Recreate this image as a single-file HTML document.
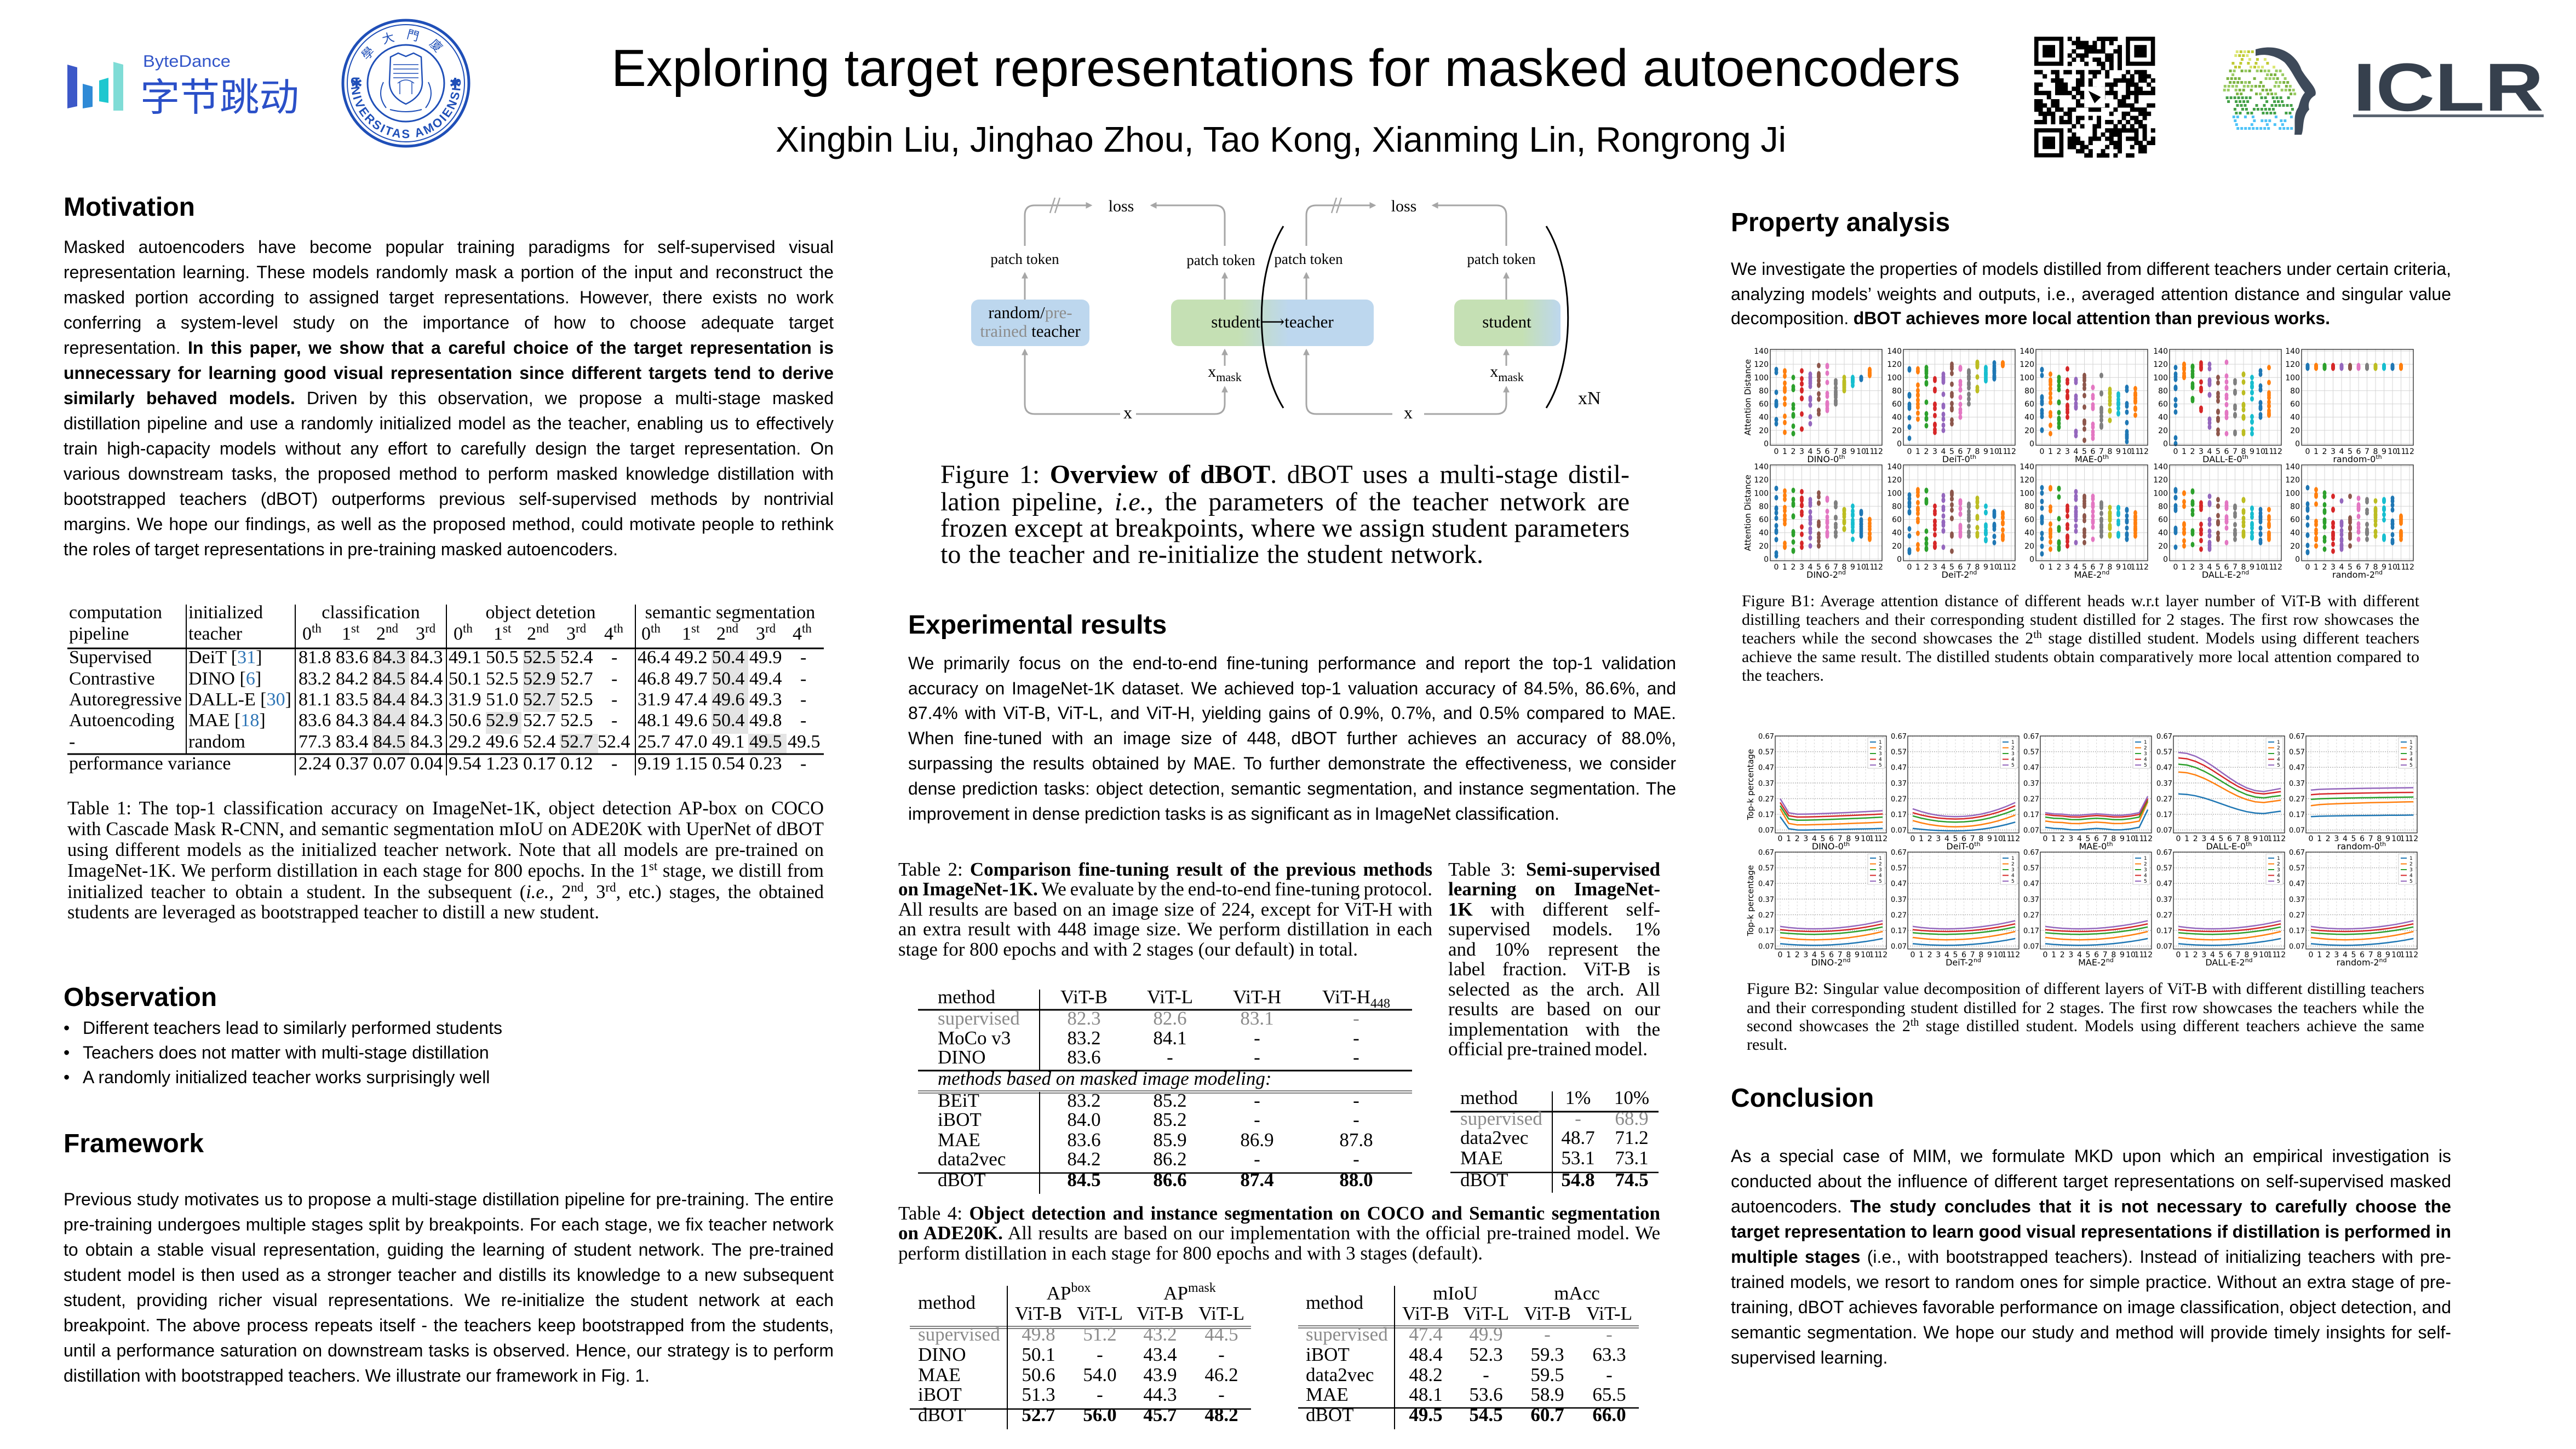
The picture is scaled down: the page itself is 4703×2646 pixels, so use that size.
<!DOCTYPE html>
<html><head><meta charset="utf-8"><title>Exploring target representations for masked autoencoders</title>
<style>
html,body{margin:0;padding:0;background:#fff}
svg{display:block}
.s{font-family:"Liberation Sans",Arial,"Noto Sans CJK SC",sans-serif}
.t{font-family:"Liberation Serif","Times New Roman","DejaVu Serif",serif}
.d{font-family:"DejaVu Sans","Liberation Sans",sans-serif}
.cj{font-family:"Liberation Sans","Noto Sans CJK SC","WenQuanYi Zen Hei",sans-serif}
.h{font-size:48px;font-weight:bold}
.b{font-size:32px}
</style></head><body>
<svg xmlns="http://www.w3.org/2000/svg" width="4703" height="2646" viewBox="0 0 4703 2646">
<defs>
<marker id="ah" viewBox="0 0 10 10" refX="8" refY="5" markerWidth="4" markerHeight="4" orient="auto"><path d="M0,0 L10,5 L0,10 z" fill="#a6a6a6"/></marker>
<linearGradient id="g1" x1="0" x2="1" y1="0" y2="0"><stop offset="0.33" stop-color="#c5e0b4"/><stop offset="0.58" stop-color="#bdd7ee"/></linearGradient>
<linearGradient id="g2" x1="0" x2="1" y1="0" y2="0"><stop offset="0.64" stop-color="#c5e0b4"/><stop offset="1" stop-color="#bdd7ee"/></linearGradient>
<path id="sb" d="M 647,118 A 100 100 0 1 0 835,118" fill="none"/>
<path id="st" d="M 661,152 A 80 80 0 0 1 821,152" fill="none"/>
</defs>
<rect width="4703" height="2646" fill="#fff"/>

<!-- ByteDance logo -->
<polygon points="123,118 141,123 141,194 123,198" fill="#3c58c8"/>
<polygon points="151,153 169,158 169,195 151,198" fill="#2f8ad6"/>
<polygon points="181,147 198,142 198,188 181,185" fill="#1ec7cf"/>
<polygon points="207,113 225,118 225,202 207,202" fill="#7fdcd6"/>
<text class="s" x="261" y="122" font-size="31" fill="#3356c9" textLength="160" lengthAdjust="spacingAndGlyphs">ByteDance</text>
<text class="cj" x="256" y="202" font-size="70" fill="#2b50c8" textLength="290" lengthAdjust="spacingAndGlyphs">字节跳动</text>

<!-- Seal -->
<g stroke="#1f4fb8" fill="none">
<circle cx="741" cy="152" r="115" stroke-width="5"/>
<circle cx="741" cy="152" r="107" stroke-width="2"/>
<circle cx="741" cy="152" r="70" stroke-width="3"/>
<path d="M713,104 L727,97 L741,103 L755,97 L769,104 L771,150 Q771,176 741,190 Q711,176 711,150 Z" stroke-width="2.5"/>
<path d="M718,118 H764 M718,126 H764 M718,134 H764 M718,142 H764 M730,150 V172 M752,150 V172 M726,152 Q741,140 756,152" stroke-width="1.5"/>
<path d="M700,150 Q688,175 705,197 M782,150 Q794,175 777,197 M712,200 Q741,208 770,200" stroke-width="2"/>
</g>
<text class="d" x="651" y="161" font-size="26" fill="#1f4fb8" text-anchor="middle">✱</text>
<text class="d" x="831" y="161" font-size="26" fill="#1f4fb8" text-anchor="middle">✱</text>
<text class="s" font-size="22" font-weight="bold" fill="#1f4fb8" letter-spacing="3"><textPath href="#sb" startOffset="50%" text-anchor="middle">UNIVERSITAS AMOIENSIS</textPath></text>
<text class="cj" font-size="22" fill="#1f4fb8" letter-spacing="20"><textPath href="#st" startOffset="50%" text-anchor="middle">學大門廈</textPath></text>

<!-- Title -->
<text class="s" x="1116" y="157" font-size="96" textLength="2463" lengthAdjust="spacingAndGlyphs">Exploring target representations for masked autoencoders</text>
<text class="s" x="1416" y="277" font-size="65" textLength="1845" lengthAdjust="spacingAndGlyphs">Xingbin Liu, Jinghao Zhou, Tao Kong, Xianming Lin, Rongrong Ji</text>

<!-- QR -->
<g id="qr"></g>
<!-- ICLR -->
<g id="iclr"></g>
<path d="M4118,90 C4160,78 4192,98 4202,128 C4214,148 4232,162 4227,174 C4216,180 4213,190 4216,200 C4202,214 4207,234 4202,246 L4189,246 C4191,226 4186,210 4196,196 C4199,186 4201,177 4208,169 C4193,151 4186,131 4171,114 C4156,102 4136,97 4118,102 Z" fill="#3e4a5a"/>
<text class="s" x="4296" y="202" font-size="124" font-weight="bold" fill="#36404d" textLength="348" lengthAdjust="spacingAndGlyphs">ICLR</text>
<rect x="4296" y="209" width="348" height="5" fill="#5a6470"/>

<!-- ============ LEFT COLUMN ============ -->
<text class="s h" x="116" y="394">Motivation</text>
<g class="s b">
<text x="116" y="462" textLength="1406">Masked autoencoders have become popular training paradigms for self-supervised visual</text>
<text x="116" y="508" textLength="1406">representation learning. These models randomly mask a portion of the input and reconstruct the</text>
<text x="116" y="554" textLength="1406">masked portion according to assigned target representations. However, there exists no work</text>
<text x="116" y="600" textLength="1406">conferring a system-level study on the importance of how to choose adequate target</text>
<text x="116" y="646" textLength="1406">representation. <tspan font-weight="bold">In this paper, we show that a careful choice of the target representation is</tspan></text>
<text x="116" y="692" textLength="1406" font-weight="bold">unnecessary for learning good visual representation since different targets tend to derive</text>
<text x="116" y="738" textLength="1406"><tspan font-weight="bold">similarly behaved models.</tspan> Driven by this observation, we propose a multi-stage masked</text>
<text x="116" y="784" textLength="1406">distillation pipeline and use a randomly initialized model as the teacher, enabling us to effectively</text>
<text x="116" y="830" textLength="1406">train high-capacity models without any effort to carefully design the target representation. On</text>
<text x="116" y="876" textLength="1406">various downstream tasks, the proposed method to perform masked knowledge distillation with</text>
<text x="116" y="922" textLength="1406">bootstrapped teachers (dBOT) outperforms previous self-supervised methods by nontrivial</text>
<text x="116" y="968" textLength="1406">margins. We hope our findings, as well as the proposed method, could motivate people to rethink</text>
<text x="116" y="1014" textLength="1012">the roles of target representations in pre-training masked autoencoders.</text>
</g>

<!-- Table 1 -->
<g fill="#e4e4e4">
<rect x="679" y="1187" width="68" height="190"/>
<rect x="955" y="1187" width="67" height="113"/>
<rect x="887" y="1300" width="65" height="40"/>
<rect x="1022" y="1340" width="70" height="37"/>
<rect x="1299" y="1187" width="67" height="153"/>
<rect x="1366" y="1340" width="70" height="37"/>
</g>
<g stroke="#000">
<line x1="123" x2="1504" y1="1184" y2="1184" stroke-width="3"/>
<line x1="123" x2="1504" y1="1377" y2="1377" stroke-width="3"/>
<line x1="340" x2="340" y1="1104" y2="1377" stroke-width="2"/>
<line x1="539" x2="539" y1="1104" y2="1416" stroke-width="2"/>
<line x1="815" x2="815" y1="1104" y2="1416" stroke-width="2"/>
<line x1="1160" x2="1160" y1="1104" y2="1416" stroke-width="2"/>
</g>
<g class="t" font-size="34">
<text x="126" y="1129">computation</text><text x="126" y="1168">pipeline</text>
<text x="344" y="1129">initialized</text><text x="344" y="1168">teacher</text>
<text x="677" y="1129" text-anchor="middle">classification</text>
<text x="987" y="1129" text-anchor="middle">object detetion</text>
<text x="1333" y="1129" text-anchor="middle">semantic segmentation</text>
<text x="552" y="1168">0</text><text x="569" y="1155" font-size="23">th</text>
<text x="624" y="1168">1</text><text x="641" y="1155" font-size="23">st</text>
<text x="687" y="1168">2</text><text x="704" y="1155" font-size="23">nd</text>
<text x="759" y="1168">3</text><text x="776" y="1155" font-size="23">rd</text>
<text x="828" y="1168">0</text><text x="845" y="1155" font-size="23">th</text>
<text x="901" y="1168">1</text><text x="918" y="1155" font-size="23">st</text>
<text x="962" y="1168">2</text><text x="979" y="1155" font-size="23">nd</text>
<text x="1034" y="1168">3</text><text x="1051" y="1155" font-size="23">rd</text>
<text x="1103" y="1168">4</text><text x="1120" y="1155" font-size="23">th</text>
<text x="1171" y="1168">0</text><text x="1188" y="1155" font-size="23">th</text>
<text x="1245" y="1168">1</text><text x="1262" y="1155" font-size="23">st</text>
<text x="1308" y="1168">2</text><text x="1325" y="1155" font-size="23">nd</text>
<text x="1380" y="1168">3</text><text x="1397" y="1155" font-size="23">rd</text>
<text x="1447" y="1168">4</text><text x="1464" y="1155" font-size="23">th</text>
<text y="1211"><tspan x="126">Supervised</tspan><tspan x="344">DeiT [<tspan fill="#2e75b6">31</tspan>]</tspan><tspan x="545">81.8</tspan><tspan x="613">83.6</tspan><tspan x="681">84.3</tspan><tspan x="749">84.3</tspan><tspan x="819">49.1</tspan><tspan x="887">50.5</tspan><tspan x="955">52.5</tspan><tspan x="1023">52.4</tspan><tspan x="1116">-</tspan><tspan x="1164">46.4</tspan><tspan x="1232">49.2</tspan><tspan x="1300">50.4</tspan><tspan x="1368">49.9</tspan><tspan x="1461">-</tspan></text>
<text y="1250"><tspan x="126">Contrastive</tspan><tspan x="344">DINO [<tspan fill="#2e75b6">6</tspan>]</tspan><tspan x="545">83.2</tspan><tspan x="613">84.2</tspan><tspan x="681">84.5</tspan><tspan x="749">84.4</tspan><tspan x="819">50.1</tspan><tspan x="887">52.5</tspan><tspan x="955">52.9</tspan><tspan x="1023">52.7</tspan><tspan x="1116">-</tspan><tspan x="1164">46.8</tspan><tspan x="1232">49.7</tspan><tspan x="1300">50.4</tspan><tspan x="1368">49.4</tspan><tspan x="1461">-</tspan></text>
<text y="1288"><tspan x="126">Autoregressive</tspan><tspan x="344">DALL-E [<tspan fill="#2e75b6">30</tspan>]</tspan><tspan x="545">81.1</tspan><tspan x="613">83.5</tspan><tspan x="681">84.4</tspan><tspan x="749">84.3</tspan><tspan x="819">31.9</tspan><tspan x="887">51.0</tspan><tspan x="955">52.7</tspan><tspan x="1023">52.5</tspan><tspan x="1116">-</tspan><tspan x="1164">31.9</tspan><tspan x="1232">47.4</tspan><tspan x="1300">49.6</tspan><tspan x="1368">49.3</tspan><tspan x="1461">-</tspan></text>
<text y="1326"><tspan x="126">Autoencoding</tspan><tspan x="344">MAE [<tspan fill="#2e75b6">18</tspan>]</tspan><tspan x="545">83.6</tspan><tspan x="613">84.3</tspan><tspan x="681">84.4</tspan><tspan x="749">84.3</tspan><tspan x="819">50.6</tspan><tspan x="887">52.9</tspan><tspan x="955">52.7</tspan><tspan x="1023">52.5</tspan><tspan x="1116">-</tspan><tspan x="1164">48.1</tspan><tspan x="1232">49.6</tspan><tspan x="1300">50.4</tspan><tspan x="1368">49.8</tspan><tspan x="1461">-</tspan></text>
<text y="1365"><tspan x="126">-</tspan><tspan x="344">random</tspan><tspan x="545">77.3</tspan><tspan x="613">83.4</tspan><tspan x="681">84.5</tspan><tspan x="749">84.3</tspan><tspan x="819">29.2</tspan><tspan x="887">49.6</tspan><tspan x="955">52.4</tspan><tspan x="1023">52.7</tspan><tspan x="1091">52.4</tspan><tspan x="1164">25.7</tspan><tspan x="1232">47.0</tspan><tspan x="1300">49.1</tspan><tspan x="1368">49.5</tspan><tspan x="1438">49.5</tspan></text>
<text y="1405"><tspan x="126">performance variance</tspan><tspan x="545">2.24</tspan><tspan x="613">0.37</tspan><tspan x="681">0.07</tspan><tspan x="749">0.04</tspan><tspan x="819">9.54</tspan><tspan x="887">1.23</tspan><tspan x="955">0.17</tspan><tspan x="1023">0.12</tspan><tspan x="1116">-</tspan><tspan x="1164">9.19</tspan><tspan x="1232">1.15</tspan><tspan x="1300">0.54</tspan><tspan x="1368">0.23</tspan><tspan x="1461">-</tspan></text>
</g>
<g class="t" font-size="34.5">
<text x="123" y="1487" textLength="1381">Table 1: The top-1 classification accuracy on ImageNet-1K, object detection AP-box on COCO</text>
<text x="123" y="1525" textLength="1381">with Cascade Mask R-CNN, and semantic segmentation mIoU on ADE20K with UperNet of dBOT</text>
<text x="123" y="1563" textLength="1381">using different models as the initialized teacher network. Note that all models are pre-trained on</text>
<text x="123" y="1601" textLength="1381">ImageNet-1K. We perform distillation in each stage for 800 epochs. In the 1<tspan dy="-12" font-size="23">st</tspan><tspan dy="12"> stage, we distill from</tspan></text>
<text x="123" y="1640" textLength="1381">initialized teacher to obtain a student. In the subsequent (<tspan font-style="italic">i.e.</tspan>, 2<tspan dy="-12" font-size="23">nd</tspan><tspan dy="12">, 3</tspan><tspan dy="-12" font-size="23">rd</tspan><tspan dy="12">, etc.) stages, the obtained</tspan></text>
<text x="123" y="1677" textLength="971">students are leveraged as bootstrapped teacher to distill a new student.</text>
</g>

<text class="s h" x="116" y="1837">Observation</text>
<g class="s b">
<text x="116" y="1888">•</text><text x="151" y="1888">Different teachers lead to similarly performed students</text>
<text x="116" y="1933">•</text><text x="151" y="1933">Teachers does not matter with multi-stage distillation</text>
<text x="116" y="1978">•</text><text x="151" y="1978">A randomly initialized teacher works surprisingly well</text>
</g>

<text class="s h" x="116" y="2104">Framework</text>
<g class="s b">
<text x="116" y="2201" textLength="1406">Previous study motivates us to propose a multi-stage distillation pipeline for pre-training. The entire</text>
<text x="116" y="2247" textLength="1406">pre-training undergoes multiple stages split by breakpoints. For each stage, we fix teacher network</text>
<text x="116" y="2293" textLength="1406">to obtain a stable visual representation, guiding the learning of student network. The pre-trained</text>
<text x="116" y="2339" textLength="1406">student model is then used as a stronger teacher and distills its knowledge to a new subsequent</text>
<text x="116" y="2385" textLength="1406">student, providing richer visual representations. We re-initialize the student network at each</text>
<text x="116" y="2431" textLength="1406">breakpoint. The above process repeats itself - the teachers keep bootstrapped from the students,</text>
<text x="116" y="2477" textLength="1406">until a performance saturation on downstream tasks is observed. Hence, our strategy is to perform</text>
<text x="116" y="2523" textLength="1070">distillation with bootstrapped teachers. We illustrate our framework in Fig. 1.</text>
</g>

<!-- ============ MIDDLE COLUMN ============ -->
<!-- Figure 1 -->
<rect x="1773" y="547" width="216" height="85" rx="14" fill="#bdd7ee"/>
<rect x="2138" y="547" width="370" height="85" rx="14" fill="url(#g1)"/>
<rect x="2655" y="547" width="194" height="85" rx="14" fill="url(#g2)"/>
<g fill="none" stroke="#a6a6a6" stroke-width="3">
<path d="M1871,449 V393 Q1871,375 1889,375 H1992" marker-end="url(#ah)"/>
<path d="M2236,449 V393 Q2236,375 2218,375 H2102" marker-end="url(#ah)"/>
<path d="M1871,547 V499" marker-end="url(#ah)"/>
<path d="M2236,547 V499" marker-end="url(#ah)"/>
<path d="M2045,756 H1889 Q1871,756 1871,738 V639" marker-end="url(#ah)"/>
<path d="M2074,756 H2218 Q2236,756 2236,738 V707" marker-end="url(#ah)"/>
<path d="M2236,668 V639" marker-end="url(#ah)"/>
<path d="M1917,389 L1926,361 M1926,389 L1935,361" stroke-width="2.5"/>
<path d="M2385,449 V393 Q2385,375 2403,375 H2510" marker-end="url(#ah)"/>
<path d="M2750,449 V393 Q2750,375 2732,375 H2616" marker-end="url(#ah)"/>
<path d="M2385,547 V499" marker-end="url(#ah)"/>
<path d="M2750,547 V499" marker-end="url(#ah)"/>
<path d="M2542,756 H2403 Q2385,756 2385,738 V639" marker-end="url(#ah)"/>
<path d="M2600,756 H2732 Q2750,756 2750,738 V707" marker-end="url(#ah)"/>
<path d="M2750,668 V639" marker-end="url(#ah)"/>
<path d="M2431,389 L2440,361 M2440,389 L2449,361" stroke-width="2.5"/>
</g>
<g fill="none" stroke="#000" stroke-width="3">
<path d="M2343,413 C2290,500 2290,660 2343,745"/>
<path d="M2823,413 C2876,500 2876,660 2823,745"/>
</g>
<g class="t">
<text x="2047" y="386" font-size="30" text-anchor="middle">loss</text>
<text x="2563" y="386" font-size="30" text-anchor="middle">loss</text>
<text x="1871" y="482" font-size="27" text-anchor="middle">patch token</text>
<text x="2229" y="484" font-size="27" text-anchor="middle">patch token</text>
<text x="2389" y="482" font-size="27" text-anchor="middle">patch token</text>
<text x="2741" y="482" font-size="27" text-anchor="middle">patch token</text>
<text x="1881" y="581" font-size="31" text-anchor="middle">random/<tspan fill="#8c8c8c">pre-</tspan></text>
<text x="1881" y="615" font-size="31" text-anchor="middle"><tspan fill="#8c8c8c">trained</tspan> teacher</text>
<text x="2323" y="598" font-size="31" text-anchor="middle">student⟶teacher</text>
<text x="2751" y="598" font-size="31" text-anchor="middle">student</text>
<text x="2059" y="764" font-size="32" text-anchor="middle">x</text>
<text x="2571" y="764" font-size="32" text-anchor="middle">x</text>
<text x="2236" y="688" font-size="30" text-anchor="middle">x<tspan font-size="22" dy="8">mask</tspan></text>
<text x="2751" y="688" font-size="30" text-anchor="middle">x<tspan font-size="22" dy="8">mask</tspan></text>
<text x="2881" y="738" font-size="34">xN</text>
</g>
<g class="t" font-size="48">
<text x="1717" y="882" textLength="1258">Figure 1: <tspan font-weight="bold">Overview of dBOT</tspan>. dBOT uses a multi-stage distil-</text>
<text x="1717" y="932" textLength="1258">lation pipeline, <tspan font-style="italic">i.e.</tspan>, the parameters of the teacher network are</text>
<text x="1717" y="980" textLength="1258">frozen except at breakpoints, where we assign student parameters</text>
<text x="1717" y="1028" textLength="991">to the teacher and re-initialize the student network.</text>
</g>

<text class="s h" x="1658" y="1157">Experimental results</text>
<g class="s b">
<text x="1658" y="1222" textLength="1402">We primarily focus on the end-to-end fine-tuning performance and report the top-1 validation</text>
<text x="1658" y="1268" textLength="1402">accuracy on ImageNet-1K dataset. We achieved top-1 valuation accuracy of 84.5%, 86.6%, and</text>
<text x="1658" y="1313" textLength="1402">87.4% with ViT-B, ViT-L, and ViT-H, yielding gains of 0.9%, 0.7%, and 0.5% compared to MAE.</text>
<text x="1658" y="1359" textLength="1402">When fine-tuned with an image size of 448, dBOT further achieves an accuracy of 88.0%,</text>
<text x="1658" y="1405" textLength="1402">surpassing the results obtained by MAE. To further demonstrate the effectiveness, we consider</text>
<text x="1658" y="1451" textLength="1402">dense prediction tasks: object detection, semantic segmentation, and instance segmentation. The</text>
<text x="1658" y="1497" textLength="1189">improvement in dense prediction tasks is as significant as in ImageNet classification.</text>
</g>

<!-- Table 2 / 3 captions -->
<g class="t" font-size="35">
<text x="1640" y="1599" textLength="975">Table 2: <tspan font-weight="bold">Comparison fine-tuning result of the previous methods</tspan></text>
<text x="1640" y="1635" textLength="975"><tspan font-weight="bold">on ImageNet-1K.</tspan> We evaluate by the end-to-end fine-tuning protocol.</text>
<text x="1640" y="1672" textLength="975">All results are based on an image size of 224, except for ViT-H with</text>
<text x="1640" y="1708" textLength="975">an extra result with 448 image size. We perform distillation in each</text>
<text x="1640" y="1745" textLength="839">stage for 800 epochs and with 2 stages (our default) in total.</text>
<text x="2644" y="1599" textLength="387">Table 3: <tspan font-weight="bold">Semi-supervised</tspan></text>
<text x="2644" y="1635" textLength="387" font-weight="bold">learning on ImageNet-</text>
<text x="2644" y="1672" textLength="387"><tspan font-weight="bold">1K</tspan> with different self-</text>
<text x="2644" y="1708" textLength="387">supervised models. 1%</text>
<text x="2644" y="1745" textLength="387">and 10% represent the</text>
<text x="2644" y="1781" textLength="387">label fraction. ViT-B is</text>
<text x="2644" y="1818" textLength="387">selected as the arch. All</text>
<text x="2644" y="1854" textLength="387">results are based on our</text>
<text x="2644" y="1891" textLength="387">implementation with the</text>
<text x="2644" y="1927" textLength="364">official pre-trained model.</text>
</g>

<!-- Table 2 -->
<g stroke="#000">
<line x1="1676" x2="2578" y1="1844" y2="1844" stroke-width="3"/>
<line x1="1676" x2="2578" y1="1955" y2="1955" stroke-width="3"/>
<line x1="1676" x2="2578" y1="1992" y2="1992" stroke-width="1.5" stroke="#555"/>
<line x1="1676" x2="2578" y1="1996" y2="1996" stroke-width="1.5" stroke="#555"/>
<line x1="1676" x2="2578" y1="2142" y2="2142" stroke-width="2.5"/>
<line x1="1898" x2="1898" y1="1807" y2="1954" stroke-width="2"/>
<line x1="1898" x2="1898" y1="1994" y2="2180" stroke-width="2"/>
</g>
<g class="t" font-size="35">
<text x="1712" y="1832">method</text>
<text x="1979" y="1832" text-anchor="middle">ViT-B</text>
<text x="2136" y="1832" text-anchor="middle">ViT-L</text>
<text x="2295" y="1832" text-anchor="middle">ViT-H</text>
<text x="2476" y="1832" text-anchor="middle">ViT-H<tspan font-size="24" dy="8">448</tspan></text>
<g fill="#8a8a8a"><text x="1712" y="1871">supervised</text><text x="1979" y="1871" text-anchor="middle">82.3</text><text x="2136" y="1871" text-anchor="middle">82.6</text><text x="2295" y="1871" text-anchor="middle">83.1</text><text x="2476" y="1871" text-anchor="middle">-</text></g>
<text x="1712" y="1907">MoCo v3</text><text x="1979" y="1907" text-anchor="middle">83.2</text><text x="2136" y="1907" text-anchor="middle">84.1</text><text x="2295" y="1907" text-anchor="middle">-</text><text x="2476" y="1907" text-anchor="middle">-</text>
<text x="1712" y="1942">DINO</text><text x="1979" y="1942" text-anchor="middle">83.6</text><text x="2136" y="1942" text-anchor="middle">-</text><text x="2295" y="1942" text-anchor="middle">-</text><text x="2476" y="1942" text-anchor="middle">-</text>
<text x="1712" y="1981" font-style="italic">methods based on masked image modeling:</text>
<text x="1712" y="2021">BEiT</text><text x="1979" y="2021" text-anchor="middle">83.2</text><text x="2136" y="2021" text-anchor="middle">85.2</text><text x="2295" y="2021" text-anchor="middle">-</text><text x="2476" y="2021" text-anchor="middle">-</text>
<text x="1712" y="2056">iBOT</text><text x="1979" y="2056" text-anchor="middle">84.0</text><text x="2136" y="2056" text-anchor="middle">85.2</text><text x="2295" y="2056" text-anchor="middle">-</text><text x="2476" y="2056" text-anchor="middle">-</text>
<text x="1712" y="2093">MAE</text><text x="1979" y="2093" text-anchor="middle">83.6</text><text x="2136" y="2093" text-anchor="middle">85.9</text><text x="2295" y="2093" text-anchor="middle">86.9</text><text x="2476" y="2093" text-anchor="middle">87.8</text>
<text x="1712" y="2128">data2vec</text><text x="1979" y="2128" text-anchor="middle">84.2</text><text x="2136" y="2128" text-anchor="middle">86.2</text><text x="2295" y="2128" text-anchor="middle">-</text><text x="2476" y="2128" text-anchor="middle">-</text>
<text x="1712" y="2166">dBOT</text>
<g font-weight="bold"><text x="1979" y="2166" text-anchor="middle">84.5</text><text x="2136" y="2166" text-anchor="middle">86.6</text><text x="2295" y="2166" text-anchor="middle">87.4</text><text x="2476" y="2166" text-anchor="middle">88.0</text></g>
</g>

<!-- Table 3 -->
<g stroke="#000">
<line x1="2648" x2="3028" y1="2030" y2="2030" stroke-width="3"/>
<line x1="2648" x2="3028" y1="2141" y2="2141" stroke-width="2.5"/>
<line x1="2834" x2="2834" y1="1993" y2="2178" stroke-width="2"/>
</g>
<g class="t" font-size="35">
<text x="2666" y="2016">method</text><text x="2881" y="2016" text-anchor="middle">1%</text><text x="2979" y="2016" text-anchor="middle">10%</text>
<g fill="#8a8a8a"><text x="2666" y="2054">supervised</text><text x="2881" y="2054" text-anchor="middle">-</text><text x="2979" y="2054" text-anchor="middle">68.9</text></g>
<text x="2666" y="2089">data2vec</text><text x="2881" y="2089" text-anchor="middle">48.7</text><text x="2979" y="2089" text-anchor="middle">71.2</text>
<text x="2666" y="2126">MAE</text><text x="2881" y="2126" text-anchor="middle">53.1</text><text x="2979" y="2126" text-anchor="middle">73.1</text>
<text x="2666" y="2166">dBOT</text>
<g font-weight="bold"><text x="2881" y="2166" text-anchor="middle">54.8</text><text x="2979" y="2166" text-anchor="middle">74.5</text></g>
</g>

<!-- Table 4 -->
<g class="t" font-size="35">
<text x="1640" y="2227" textLength="1391">Table 4: <tspan font-weight="bold">Object detection and instance segmentation on COCO and Semantic segmentation</tspan></text>
<text x="1640" y="2263" textLength="1391"><tspan font-weight="bold">on ADE20K.</tspan> All results are based on our implementation with the official pre-trained model. We</text>
<text x="1640" y="2300" textLength="1067">perform distillation in each stage for 800 epochs and with 3 stages (default).</text>
</g>
<g stroke="#000">
<line x1="1661" x2="2284" y1="2422" y2="2422" stroke-width="1.5" stroke="#555"/>
<line x1="1661" x2="2284" y1="2426" y2="2426" stroke-width="1.5" stroke="#555"/>
<line x1="1661" x2="2284" y1="2573" y2="2573" stroke-width="2.5"/>
<line x1="1839" x2="1839" y1="2348" y2="2610" stroke-width="2"/>
<line x1="2370" x2="2992" y1="2421" y2="2421" stroke-width="1.5" stroke="#555"/>
<line x1="2370" x2="2992" y1="2425" y2="2425" stroke-width="1.5" stroke="#555"/>
<line x1="2370" x2="2992" y1="2571" y2="2571" stroke-width="2.5"/>
<line x1="2546" x2="2546" y1="2348" y2="2610" stroke-width="2"/>
</g>
<g class="t" font-size="35">
<text x="1676" y="2390">method</text>
<text x="1951" y="2373" text-anchor="middle">AP<tspan font-size="24" dy="-14">box</tspan></text>
<text x="2172" y="2373" text-anchor="middle">AP<tspan font-size="24" dy="-14">mask</tspan></text>
<text x="1896" y="2410" text-anchor="middle">ViT-B</text><text x="2008" y="2410" text-anchor="middle">ViT-L</text><text x="2118" y="2410" text-anchor="middle">ViT-B</text><text x="2230" y="2410" text-anchor="middle">ViT-L</text>
<g fill="#8a8a8a"><text x="1676" y="2448">supervised</text><text x="1896" y="2448" text-anchor="middle">49.8</text><text x="2008" y="2448" text-anchor="middle">51.2</text><text x="2118" y="2448" text-anchor="middle">43.2</text><text x="2230" y="2448" text-anchor="middle">44.5</text></g>
<text x="1676" y="2485">DINO</text><text x="1896" y="2485" text-anchor="middle">50.1</text><text x="2008" y="2485" text-anchor="middle">-</text><text x="2118" y="2485" text-anchor="middle">43.4</text><text x="2230" y="2485" text-anchor="middle">-</text>
<text x="1676" y="2522">MAE</text><text x="1896" y="2522" text-anchor="middle">50.6</text><text x="2008" y="2522" text-anchor="middle">54.0</text><text x="2118" y="2522" text-anchor="middle">43.9</text><text x="2230" y="2522" text-anchor="middle">46.2</text>
<text x="1676" y="2558">iBOT</text><text x="1896" y="2558" text-anchor="middle">51.3</text><text x="2008" y="2558" text-anchor="middle">-</text><text x="2118" y="2558" text-anchor="middle">44.3</text><text x="2230" y="2558" text-anchor="middle">-</text>
<text x="1676" y="2595">dBOT</text>
<g font-weight="bold"><text x="1896" y="2595" text-anchor="middle">52.7</text><text x="2008" y="2595" text-anchor="middle">56.0</text><text x="2118" y="2595" text-anchor="middle">45.7</text><text x="2230" y="2595" text-anchor="middle">48.2</text></g>

<text x="2384" y="2390">method</text>
<text x="2657" y="2373" text-anchor="middle">mIoU</text>
<text x="2879" y="2373" text-anchor="middle">mAcc</text>
<text x="2603" y="2410" text-anchor="middle">ViT-B</text><text x="2713" y="2410" text-anchor="middle">ViT-L</text><text x="2825" y="2410" text-anchor="middle">ViT-B</text><text x="2938" y="2410" text-anchor="middle">ViT-L</text>
<g fill="#8a8a8a"><text x="2384" y="2448">supervised</text><text x="2603" y="2448" text-anchor="middle">47.4</text><text x="2713" y="2448" text-anchor="middle">49.9</text><text x="2825" y="2448" text-anchor="middle">-</text><text x="2938" y="2448" text-anchor="middle">-</text></g>
<text x="2384" y="2485">iBOT</text><text x="2603" y="2485" text-anchor="middle">48.4</text><text x="2713" y="2485" text-anchor="middle">52.3</text><text x="2825" y="2485" text-anchor="middle">59.3</text><text x="2938" y="2485" text-anchor="middle">63.3</text>
<text x="2384" y="2522">data2vec</text><text x="2603" y="2522" text-anchor="middle">48.2</text><text x="2713" y="2522" text-anchor="middle">-</text><text x="2825" y="2522" text-anchor="middle">59.5</text><text x="2938" y="2522" text-anchor="middle">-</text>
<text x="2384" y="2558">MAE</text><text x="2603" y="2558" text-anchor="middle">48.1</text><text x="2713" y="2558" text-anchor="middle">53.6</text><text x="2825" y="2558" text-anchor="middle">58.9</text><text x="2938" y="2558" text-anchor="middle">65.5</text>
<text x="2384" y="2595">dBOT</text>
<g font-weight="bold"><text x="2603" y="2595" text-anchor="middle">49.5</text><text x="2713" y="2595" text-anchor="middle">54.5</text><text x="2825" y="2595" text-anchor="middle">60.7</text><text x="2938" y="2595" text-anchor="middle">66.0</text></g>
</g>

<!-- ============ RIGHT COLUMN ============ -->
<text class="s h" x="3160" y="422">Property analysis</text>
<g class="s b">
<text x="3160" y="502" textLength="1315">We investigate the properties of models distilled from different teachers under certain criteria,</text>
<text x="3160" y="548" textLength="1315">analyzing models’ weights and outputs, i.e., averaged attention distance and singular value</text>
<text x="3160" y="592" textLength="1094">decomposition. <tspan font-weight="bold">dBOT achieves more local attention than previous works.</tspan></text>
</g>

<g id="plots" class="d"></g>

<g class="t" font-size="30">
<text x="3180" y="1107" textLength="1237">Figure B1: Average attention distance of different heads w.r.t layer number of ViT-B with different</text>
<text x="3180" y="1141" textLength="1237">distilling teachers and their corresponding student distilled for 2 stages. The first row showcases the</text>
<text x="3180" y="1175" textLength="1237">teachers while the second showcases the 2<tspan dy="-10" font-size="20">th</tspan><tspan dy="10"> stage distilled student. Models using different teachers</tspan></text>
<text x="3180" y="1209" textLength="1237">achieve the same result. The distilled students obtain comparatively more local attention compared to</text>
<text x="3180" y="1243">the teachers.</text>
<text x="3189" y="1815" textLength="1237">Figure B2: Singular value decomposition of different layers of ViT-B with different distilling teachers</text>
<text x="3189" y="1850" textLength="1237">and their corresponding student distilled for 2 stages. The first row showcases the teachers while the</text>
<text x="3189" y="1883" textLength="1237">second showcases the 2<tspan dy="-10" font-size="20">th</tspan><tspan dy="10"> stage distilled student. Models using different teachers achieve the same</tspan></text>
<text x="3189" y="1917">result.</text>
</g>

<text class="s h" x="3160" y="2021">Conclusion</text>
<g class="s b">
<text x="3160" y="2122" textLength="1315">As a special case of MIM, we formulate MKD upon which an empirical investigation is</text>
<text x="3160" y="2168" textLength="1315">conducted about the influence of different target representations on self-supervised masked</text>
<text x="3160" y="2214" textLength="1315">autoencoders. <tspan font-weight="bold">The study concludes that it is not necessary to carefully choose the</tspan></text>
<text x="3160" y="2260" textLength="1315" font-weight="bold">target representation to learn good visual representations if distillation is performed in</text>
<text x="3160" y="2306" textLength="1315"><tspan font-weight="bold">multiple stages</tspan> (i.e., with bootstrapped teachers). Instead of initializing teachers with pre-</text>
<text x="3160" y="2352" textLength="1315">trained models, we resort to random ones for simple practice. Without an extra stage of pre-</text>
<text x="3160" y="2398" textLength="1315">training, dBOT achieves favorable performance on image classification, object detection, and</text>
<text x="3160" y="2444" textLength="1315">semantic segmentation. We hope our study and method will provide timely insights for self-</text>
<text x="3160" y="2490">supervised learning.</text>
</g>
</svg>
<script>
(function(){
document.querySelectorAll('text[textLength]').forEach(function(t){
  if(t.getAttribute('lengthAdjust')==='spacingAndGlyphs')return;
  var W=parseFloat(t.getAttribute('textLength'));
  t.removeAttribute('textLength');
  var w=t.getComputedTextLength();
  var n=(t.textContent.match(/ /g)||[]).length;
  if(n>0){t.style.wordSpacing=((W-w)/n)+'px';}
  else{t.setAttribute('textLength',W);}
});
var NS='http://www.w3.org/2000/svg';
var P=document.getElementById('plots');
function E(tag,a,p){var e=document.createElementNS(NS,tag);for(var k in a)e.setAttribute(k,a[k]);(p||P).appendChild(e);return e;}
function T(x,y,s,txt,a,p){var o={x:x,y:y,'font-size':s};for(var k in (a||{}))o[k]=a[k];var e=E('text',o,p);e.textContent=txt;return e;}
var S=9871;function R(){S=(S*16807)%2147483647;return S/2147483647;}
var C=['#1f77b4','#ff7f0e','#2ca02c','#d62728','#9467bd','#8c564b','#e377c2','#7f7f7f','#bcbd22','#17becf'];
var names=['DINO','DeiT','MAE','DALL-E','random'];
function lab(x,y,name,row){var e=T(x,y,16,name+(row?'-2':'-0'),{'text-anchor':'middle'});var s=E('tspan',{dy:-6,'font-size':11},e);s.textContent=row?'nd':'th';}
var RA=[];for(var i=0;i<12;i++)RA.push([114,118]);
var R1=[
[[30,112],[17,110],[15,100],[22,110],[30,105],[45,118],[50,118],[60,95],[80,100],[88,100],[97,100],[103,112]],
[[8,113],[37,113],[27,115],[17,98],[20,105],[30,120],[40,115],[60,110],[80,123],[95,115],[98,122],[118,122]],
[[20,112],[15,105],[25,100],[40,113],[12,97],[5,103],[8,85],[25,103],[35,82],[45,75],[3,85],[43,83]],
[[0,115],[100,120],[65,117],[50,122],[25,120],[15,100],[15,123],[15,95],[15,105],[15,100],[40,110],[43,115]],
RA,
[[5,107],[18,103],[12,104],[18,102],[20,90],[20,100],[35,92],[35,85],[45,75],[30,80],[35,72],[30,60]],
[[10,97],[15,105],[15,104],[18,80],[18,96],[12,101],[35,88],[35,83],[35,92],[28,80],[25,72],[30,70]],
[[8,108],[15,108],[15,107],[20,80],[25,102],[25,95],[30,95],[35,85],[35,78],[35,78],[30,75],[35,70]],
[[18,105],[20,100],[22,103],[15,85],[15,95],[30,90],[25,85],[30,80],[35,90],[32,77],[25,75],[30,75]],
[[10,108],[20,105],[15,100],[12,95],[15,88],[20,95],[30,92],[30,90],[35,88],[30,90],[25,92],[30,65]]
];
var bx1=[3232,3475,3717,3961,4202],by1=[638,849],w1=204,h1=175;
for(var r=0;r<2;r++)for(var c=0;c<5;c++){(function(r,c){
 var x0=bx1[c],y0=by1[r];
 var X=function(i){return x0+11+i*15.5;},Y=function(v){return y0+h1-3-v*(h1-6)/140;};
 for(var i=0;i<=12;i++){E('line',{x1:X(i),x2:X(i),y1:y0,y2:y0+h1,stroke:'#d4d4d4','stroke-width':1});T(X(i),y0+h1+16,14,String(i),{'text-anchor':'middle'});}
 for(var v=0;v<=140;v+=20){E('line',{x1:x0,x2:x0+w1,y1:Y(v),y2:Y(v),stroke:'#d4d4d4','stroke-width':1});T(x0-3,Y(v)+5,14,String(v),{'text-anchor':'end'});}
 var rg=R1[r*5+c];
 for(var l=0;l<12;l++){var lo=rg[l][0],hi=rg[l][1];for(var k=0;k<12;k++){var u=k==0?0:(k==1?1:R());var val=lo+(hi-lo)*u;E('ellipse',{cx:X(l),cy:Y(val),rx:3.4,ry:5,fill:C[l%10]});}}
 E('rect',{x:x0,y:y0,width:w1,height:h1,fill:'none',stroke:'#222','stroke-width':1.3});
 lab(x0+w1/2,y0+h1+31,names[c],r);
 if(c==0)T(0,0,15,'Attention Distance',{transform:'translate(3196,'+(y0+h1/2)+') rotate(-90)','text-anchor':'middle'});
})(r,c);}
function cv(type,k,l){var s,m,e,b;
 switch(type){
 case 0:s=[.155,.205,.225,.245,.27][k];b=[.068,.1,.13,.15,.168][k];var ri=[.012,.02,.022,.022,.025][k];return b+(s-b)*Math.exp(-2.2*l)+ri*Math.pow(l/12,1.5);
 case 1:s=[.08,.13,.16,.18,.205][k];m=[.064,.09,.12,.14,.155][k];e=[.12,.165,.2,.225,.245][k];return l<=5?m+(s-m)*Math.pow((5-l)/5,2):m+(e-m)*Math.pow((l-5)/7,2);
 case 2:b=[.075,.115,.14,.157,.168][k];e=[.2,.25,.26,.27,.285][k];if(l==12)return e;if(l==0||l==11)return b+.012;return b+.005*Math.sin(l*1.3);
 case 3:s=[.3,.44,.49,.53,.565][k];m=[.175,.245,.275,.3,.315][k];e=[.19,.26,.29,.315,.335][k];return l<=10?m+(s-m)*(1+Math.cos(Math.PI*l/10))/2:m+(e-m)*(l-10)/2;
 case 4:s=[.155,.225,.265,.295,.325][k];e=[.165,.25,.28,.31,.34][k];return s+(e-s)*Math.sqrt(l/12);
 default:s=[.085,.125,.155,.175,.195][k];m=[.075,.11,.145,.163,.18][k];e=[.118,.163,.192,.212,.232][k];return l<=4?m+(s-m)*Math.pow((4-l)/4,2):m+(e-m)*Math.pow((l-4)/8,2);
 }}
var bx2=[3241,3483,3725,3968,4210],by2=[1344,1556],w2=203,h2=177;
for(var r2=0;r2<2;r2++)for(var c2=0;c2<5;c2++){(function(r,c){
 var x0=bx2[c],y0=by2[r];
 var X=function(i){return x0+9+i*15.6;},Y=function(v){return y0+(0.67-v)*286;};
 for(var i=0;i<=12;i++){E('line',{x1:X(i),x2:X(i),y1:y0,y2:y0+h2,stroke:'#d8d8d8','stroke-width':1,'stroke-dasharray':'3,3'});T(X(i),y0+h2+15,14,String(i),{'text-anchor':'middle'});}
 for(var j=0;j<7;j++){var v=0.07+j*0.1;E('line',{x1:x0,x2:x0+w2,y1:Y(v),y2:Y(v),stroke:'#b8b8b8','stroke-width':1.5,'stroke-dasharray':'2,2'});T(x0-2,Y(v)+5,13,v.toFixed(2),{'text-anchor':'end'});}
 var type=r==0?c:5;
 var LC=['#1f77b4','#ff7f0e','#2ca02c','#d62728','#9467bd'];
 for(var k=0;k<5;k++){var pts=[];for(var l=0;l<=12;l++)pts.push(X(l).toFixed(1)+','+Y(cv(type,k,l)).toFixed(1));E('polyline',{points:pts.join(' '),fill:'none',stroke:LC[k],'stroke-width':2.5});}
 var lx=x0+w2-34,ly=y0+3;
 E('rect',{x:lx,y:ly,width:31,height:56,fill:'#fff',stroke:'#ccc','stroke-width':1});
 for(var k2=0;k2<5;k2++){E('line',{x1:lx+4,x2:lx+15,y1:ly+8+k2*10.5,y2:ly+8+k2*10.5,stroke:LC[k2],'stroke-width':2});T(lx+20,ly+11+k2*10.5,9,String(k2+1));}
 E('rect',{x:x0,y:y0,width:w2,height:h2,fill:'none',stroke:'#222','stroke-width':1.3});
 lab(x0+w2/2,y0+h2+30,names[c],r);
 if(c==0)T(0,0,15,'Top-k percentage',{transform:'translate(3201,'+(y0+h2/2)+') rotate(-90)','text-anchor':'middle'});
})(r2,c2);}
var G=document.getElementById('qr');var n=29,m=7.6,qx=3714,qy=67;
function inF(i,j){return (i<8&&j<8)||(i<8&&j>=n-8)||(i>=n-8&&j<8);}
for(var i=0;i<n;i++)for(var j=0;j<n;j++){if(!inF(i,j)&&R()<0.5)E('rect',{x:(qx+j*m).toFixed(1),y:(qy+i*m).toFixed(1),width:m+0.4,height:m+0.4,fill:'#000'},G);}
function finder(ci,cj){E('rect',{x:qx+cj*m,y:qy+ci*m,width:7*m,height:7*m,fill:'#000'},G);E('rect',{x:qx+(cj+1)*m,y:qy+(ci+1)*m,width:5*m,height:5*m,fill:'#fff'},G);E('rect',{x:qx+(cj+2)*m,y:qy+(ci+2)*m,width:3*m,height:3*m,fill:'#000'},G);}
finder(0,0);finder(0,n-7);finder(n-7,0);
E('rect',{x:qx+12*m,y:qy+12*m,width:5*m,height:5*m,fill:'#fff'},G);
E('path',{d:'M'+(qx+13*m)+','+(qy+13*m)+' l'+(3*m)+','+(1.5*m)+' l'+(-1.5*m)+','+(1.5*m)+' z',fill:'#000'},G);
var I=document.getElementById('iclr');
function bxf(y){if(y<130)return 4118+(y-88)*1.3;if(y<170)return 4173+(y-130)*0.6;return 4192;}
for(var y=92;y<236;y+=7){var xl=4058+Math.abs(y-160)*0.35;for(var x=xl;x<bxf(y)-7;x+=7){if(R()<0.6){var col=y<125?(R()<0.5?'#dce775':'#c0ca33'):(y<175?(R()<0.5?'#9ccc65':'#7cb342'):(y<210?'#43a047':'#4fc3f7'));E('rect',{x:x.toFixed(1),y:y,width:5,height:5,fill:col},I);}}}
})();
</script>
</body></html>
